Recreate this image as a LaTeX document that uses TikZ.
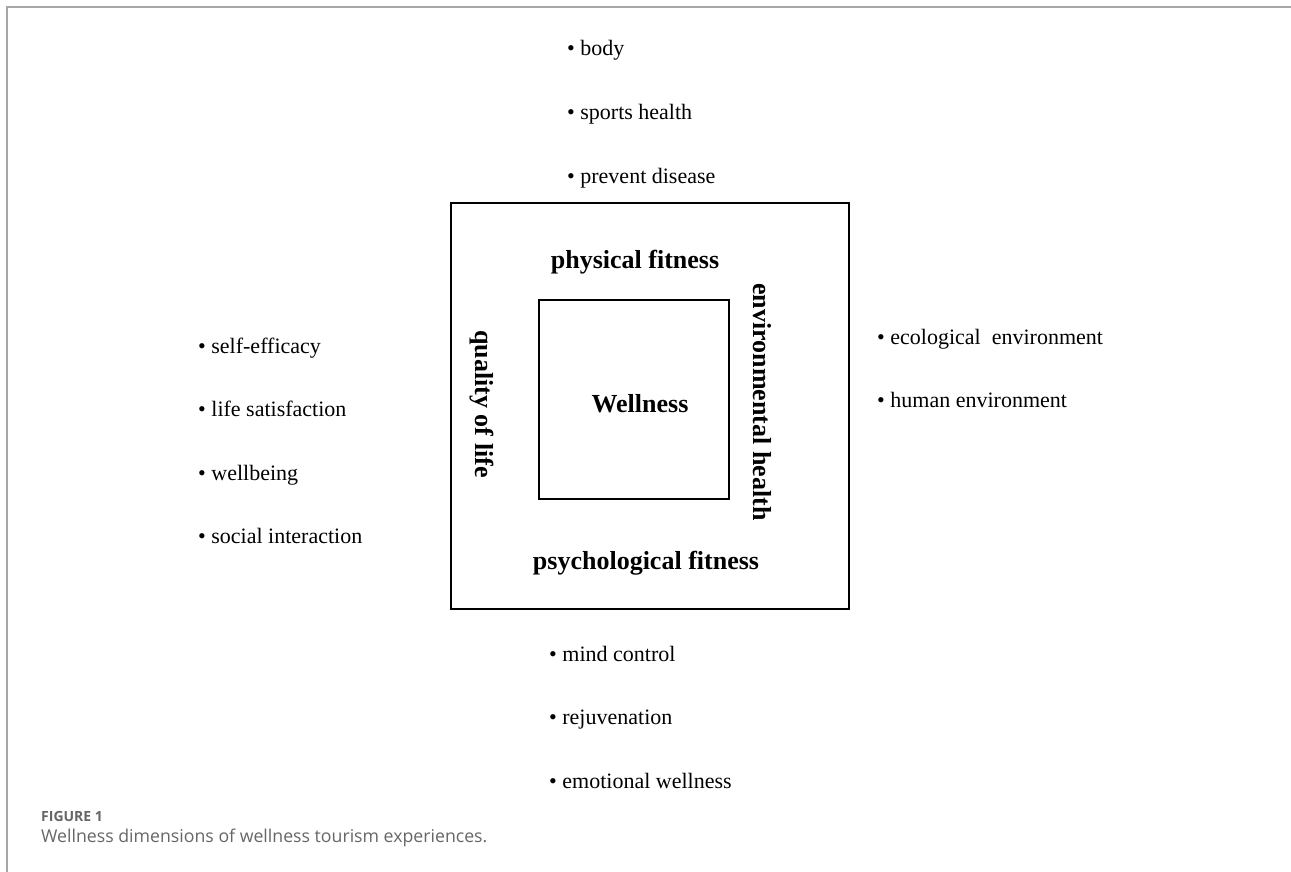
\documentclass[tikz,border=0pt]{standalone}
\usepackage{fontspec}
\setmainfont{Liberation Serif}
\newfontfamily\capfont{Open Sans}
\usetikzlibrary{positioning}
\tikzstyle{frame}   = [rectangle, draw, line width=2pt, inner sep=0pt]
\tikzstyle{dim}     = [font=\bfseries\fontsize{26}{26}\selectfont, inner sep=0pt]
\tikzstyle{item}    = [font=\fontsize{22}{22}\selectfont, anchor=west, inner sep=0pt, text height=15pt, text depth=5pt]
\tikzstyle{edge}    = [draw=gray!70, line width=2pt]
\tikzstyle{captext} = [anchor=west, inner sep=0pt, text=black!60]

\begin{document}
\begin{tikzpicture}[x=1pt, y=-1pt, node distance=63.5pt]
	\useasboundingbox (0,0) rectangle (1291,872);

	% Page frame
	\coordinate (corner) at (7,7);
	\coordinate (topend) at (1291,7);
	\coordinate (leftend) at (7,872);
	\draw[edge] (topend) -- (corner) -- (leftend);

	% Boxes
	\node (outer) [frame, minimum width=398pt, minimum height=406pt] at (650,406) {};
	\node (inner) [frame, minimum width=190pt, minimum height=199pt] at (633.5,399.5) {};

	% Dimensions
	\node (wellness) [dim] at (640,404) {Wellness};
	\node (physical) [dim] at (635,262) {physical fitness};
	\node (psycho) [dim] at (646,563) {psychological fitness};
	\node (quality) [dim, rotate=-90] at (482,404) {quality of life};
	\node (environ) [dim, rotate=-90] at (762,402) {environmental health};

	% Physical fitness items
	\node (body) [item] at (567,51) {\textbullet\ body};
	\node (sports) [item, below=of body.west, anchor=west] {\textbullet\ sports health};
	\node (prevent) [item, below=of sports.west, anchor=west] {\textbullet\ prevent disease};

	% Quality of life items
	\node (efficacy) [item] at (198,348) {\textbullet\ self-efficacy};
	\node (satisfaction) [item, below=of efficacy.west, anchor=west] {\textbullet\ life satisfaction};
	\node (wellbeing) [item, below=of satisfaction.west, anchor=west] {\textbullet\ wellbeing};
	\node (social) [item, below=of wellbeing.west, anchor=west] {\textbullet\ social interaction};

	% Environmental health items
	\node (ecological) [item] at (877,339) {\textbullet\ ecological\ \ environment};
	\node (human) [item, below=of ecological.west, anchor=west] {\textbullet\ human environment};

	% Psychological fitness items
	\node (mind) [item] at (549,656) {\textbullet\ mind control};
	\node (rejuv) [item, below=of mind.west, anchor=west] {\textbullet\ rejuvenation};
	\node (emotional) [item, below=of rejuv.west, anchor=west] {\textbullet\ emotional wellness};

	% Caption
	\node (figlabel) [captext, font=\capfont\bfseries\fontsize{14}{14}\selectfont] at (41,816) {FIGURE 1};
	\node (caption) [captext, below=22pt of figlabel.west, anchor=west, font=\capfont\fontsize{17.7}{17.7}\selectfont] {Wellness dimensions of wellness tourism experiences.};

\end{tikzpicture}
\end{document}
